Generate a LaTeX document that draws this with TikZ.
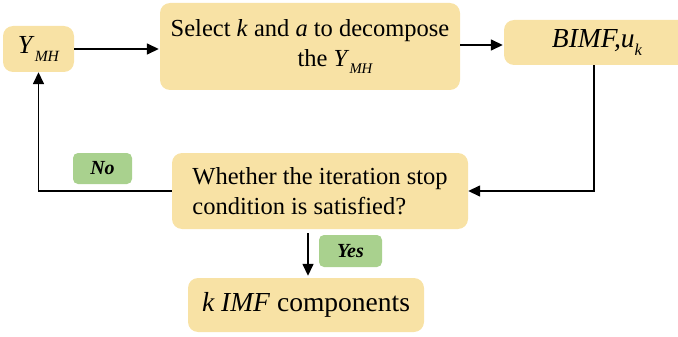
\documentclass[tikz,border=0pt]{standalone}
\usepackage{fontspec}
\setmainfont{Liberation Serif}
\usetikzlibrary{arrows.meta,calc}
\definecolor{boxyellow}{HTML}{F8E2A5}
\definecolor{boxgreen}{HTML}{A9D18E}
\newcommand\mysub[1]{\raisebox{-0.3em}{\scalebox{0.6}{\itshape #1}}}
\tikzset{
  ybox/.style={fill=boxyellow, draw=none, rounded corners=10pt, inner sep=0pt, anchor=center},
  gbox/.style={fill=boxgreen, draw=none, rounded corners=5pt, inner sep=0pt, anchor=center,
    font=\fontsize{20}{24}\selectfont\bfseries\itshape},
  conn/.style={line width=1.5pt, -{Triangle[length=12pt,width=11pt]}},
  mid/.style={font=\fontsize{24.5}{30}\selectfont},
  big/.style={font=\fontsize{27.5}{32}\selectfont}
}
\begin{document}
\begin{tikzpicture}[x=1pt,y=-1pt]
\useasboundingbox (0,0) rectangle (678,337);
\node[ybox, font=\fontsize{26}{30}\selectfont, minimum width=71pt, minimum height=46pt] (ymh) at (38.5,49) {\textit{Y}\mysub{MH}};
\node[ybox, mid, minimum width=300pt, minimum height=87pt, align=center] (sel) at (310,46.5)
  {Select \textit{k} and \textit{a} to decompose\\ \hspace*{50pt}the \textit{Y}\mysub{MH}};
\node[ybox, big, minimum width=186pt, minimum height=45pt] (bimf) at (597,42.5) {\textit{BIMF,u}\mysub{k}};
\node[ybox, mid, minimum width=296pt, minimum height=76pt, align=left] (dec) at (320,191)
  {Whether the iteration stop\\condition is satisfied?};
\node[gbox, minimum width=59pt, minimum height=31pt] (no) at (102.5,168.5) {No};
\node[gbox, minimum width=63pt, minimum height=32pt] (yes) at (350.5,251) {Yes};
\node[ybox, big, minimum width=236pt, minimum height=54pt] (out) at (306,305) {\textit{k IMF} components};
\draw[conn, shorten >=1pt] (ymh.east) -- (ymh.east -| sel.west);
\draw[conn, shorten >=1pt] ($(sel.east)+(0,-1.5)$) -- ($(sel.east -| bimf.west)+(0,-1.5)$);
\draw[conn] ($(bimf.south)+(-3,0)$) |- (dec.east);
\draw[conn] (dec.west) -| (ymh.south);
\draw[conn, shorten <=4pt, shorten >=2pt] ($(out.north |- dec.south)+(2,0)$) -- ($(out.north)+(2,0)$);
\end{tikzpicture}
\end{document}
